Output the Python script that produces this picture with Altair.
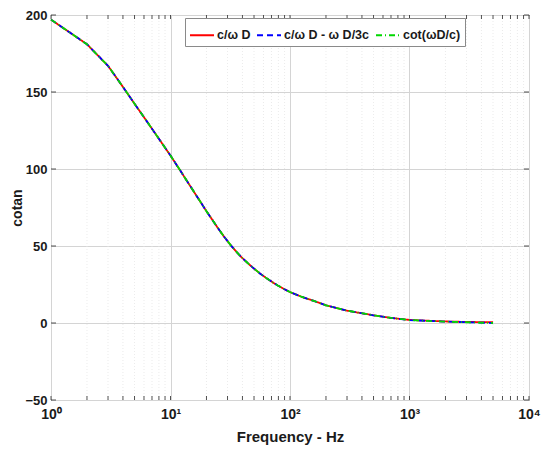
import altair as alt
import pandas as pd

# ---- data ----
freq = [1, 2, 3, 4, 5, 6, 7, 8, 10, 12, 15, 20, 25, 28, 32, 36, 40, 45, 50, 56,
        63, 71, 79, 89, 100, 126, 158, 200, 300, 500, 700, 1000, 2000, 3000, 5000]
red_vals = [197, 181, 167, 153.3, 142.4, 133.6, 126.1, 119.6, 108.7, 99.3, 87.6,
            72.6, 61.5, 56.2, 50.4, 45.8, 42.1, 38.4, 35.3, 32.2, 29.3, 26.6,
            24.4, 22.1, 20.1, 16.9, 14.4, 11.5, 8.0, 5.0, 3.3, 2.0, 1.0, 0.7, 0.5]
blue_vals = [197, 181, 167, 153.3, 142.4, 133.6, 126.1, 119.6, 108.7, 99.3, 87.6,
             72.6, 61.5, 56.2, 50.4, 45.8, 42.1, 38.4, 35.3, 32.2, 29.3, 26.6,
             24.4, 22.1, 20.1, 16.9, 14.4, 11.5, 8.0, 5.0, 3.3, 1.9, 0.9, 0.5, 0.0]
green_vals = [197, 181, 167, 153.3, 142.4, 133.6, 126.1, 119.6, 108.7, 99.3, 87.6,
              72.6, 61.5, 56.2, 50.4, 45.8, 42.1, 38.4, 35.3, 32.2, 29.3, 26.6,
              24.4, 22.1, 20.1, 16.9, 14.4, 11.5, 8.0, 5.0, 3.3, 1.9, 0.9, 0.5, 0.0]
series_names = ["c/ω D", "c/ω D - ω D/3c", "cot(ωD/c)"]
series_colors = ["#FF0000", "#0000FF", "#00D800"]
series_dashes = [[1, 0], [6, 4], [6, 3, 1, 3]]
major_x = [1, 10, 100, 1000, 10000]
minor_x = [m * 10 ** k for k in range(4) for m in range(2, 10)]
y_ticks = [-50, 0, 50, 100, 150, 200]

rows = []
for name, vals in zip(series_names, [red_vals, blue_vals, green_vals]):
    for f, v in zip(freq, vals):
        rows.append({"f": f, "v": v, "s": name})
df = pd.DataFrame(rows)
minor_df = pd.DataFrame({"f": minor_x})
all_x_df = pd.DataFrame({"f": major_x + minor_x})
y_df = pd.DataFrame({"v": y_ticks})

W, H = 478, 385
FONT = "Liberation Sans"
TXT = "#1a1a1a"

xscale = alt.Scale(type="log", domain=[1, 10000], nice=False)
yscale = alt.Scale(domain=[-50, 200], nice=False)

xaxis = alt.Axis(values=major_x,
                 labelExpr="'10' + ['⁰','¹','²','³','⁴'][round(log(datum.value)/LN10)]",
                 title="Frequency - Hz", grid=True, gridColor="#d4d4d4",
                 domain=False, ticks=False, labelFont=FONT, labelFontWeight="bold",
                 labelFontSize=14, labelColor=TXT, labelPadding=7,
                 titleFont=FONT, titleFontWeight="bold", titleFontSize=15,
                 titleColor=TXT, titlePadding=8, labelFlush=False)
yaxis = alt.Axis(values=y_ticks, title="cotan", grid=True, gridColor="#d4d4d4",
                 domain=False, ticks=False, labelFont=FONT, labelFontWeight="bold",
                 labelFontSize=13, labelColor=TXT, labelPadding=4,
                 titleFont=FONT, titleFontWeight="bold", titleFontSize=14,
                 titleColor=TXT, titlePadding=0)

minor_grid = alt.Chart(minor_df).mark_rule(
    color="#e6e6e6", strokeDash=[1, 2], strokeWidth=0.8
).encode(x=alt.X("f:Q", scale=xscale, axis=xaxis))

ticks_bottom = alt.Chart(all_x_df).mark_rule(color="#262626", strokeWidth=0.8).encode(
    x=alt.X("f:Q", scale=xscale), y=alt.value(H), y2=alt.value(H - 4))
ticks_top = alt.Chart(all_x_df).mark_rule(color="#262626", strokeWidth=0.8).encode(
    x=alt.X("f:Q", scale=xscale), y=alt.value(0), y2=alt.value(4))
ticks_left = alt.Chart(y_df).mark_rule(color="#262626", strokeWidth=0.8).encode(
    y=alt.Y("v:Q", scale=yscale, axis=yaxis), x=alt.value(0), x2=alt.value(5))
ticks_right = alt.Chart(y_df).mark_rule(color="#262626", strokeWidth=0.8).encode(
    y=alt.Y("v:Q", scale=yscale), x=alt.value(W), x2=alt.value(W - 5))

legend = alt.Legend(orient="none", legendX=134, legendY=3, direction="horizontal",
                    title=None, strokeColor="#8a8a8a", fillColor="white",
                    padding=4, symbolType="stroke", symbolSize=576,
                    symbolStrokeWidth=2, labelFont=FONT, labelFontWeight="bold",
                    labelFontSize=12.5, labelColor=TXT, labelOffset=2,
                    columnPadding=2, labelLimit=0, cornerRadius=0)
color_enc = alt.Color("s:N", scale=alt.Scale(domain=series_names, range=series_colors),
                      legend=legend)
dash_enc = alt.StrokeDash("s:N", scale=alt.Scale(domain=series_names, range=series_dashes),
                          legend=legend)

layers = []
for name in series_names:
    layers.append(
        alt.Chart(df).transform_filter(alt.datum.s == name).mark_line(
            strokeWidth=1.8, interpolate="linear"
        ).encode(
            x=alt.X("f:Q", scale=xscale),
            y=alt.Y("v:Q", scale=yscale),
            color=color_enc,
            strokeDash=dash_enc,
        )
    )

chart = alt.layer(minor_grid, ticks_bottom, ticks_top, ticks_left, ticks_right, *layers).properties(
    width=W, height=H,
    autosize=alt.AutoSizeParams(type="none"),
    padding={"left": 43, "top": 7, "right": 13, "bottom": 45},
    background="white",
).configure_view(stroke="#262626", strokeWidth=1)

chart.save("out.html", embed_options={"renderer": "svg", "actions": False})
